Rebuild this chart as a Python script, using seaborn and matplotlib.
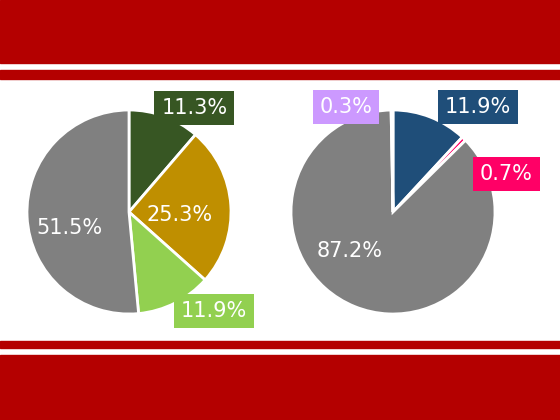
import seaborn as sns
import matplotlib.pyplot as plt
from matplotlib.patches import Rectangle

# left pie
left_labels = ["A", "B", "C", "D"]
left_values = [11.3, 25.3, 11.9, 51.5]
left_colors = ["#375623", "#BF8F00", "#92D050", "#808080"]
left_boxed = [True, False, True, False]
left_text_pos = [(0.64, 1.02), (0.50, -0.03), (0.83, -0.97), (-0.58, -0.16)]

# right pie
right_labels = ["A", "B", "C", "D"]
right_values = [11.9, 0.7, 87.2, 0.3]
right_colors = ["#1F4E79", "#FF0066", "#808080", "#CC99FF"]
right_boxed = [True, True, False, True]
right_text_pos = [(0.83, 1.03), (1.11, 0.37), (-0.43, -0.38), (-0.46, 1.03)]

sns.set_theme(style="white")
plt.rcParams["font.family"] = ["DejaVu Sans"]

fig = plt.figure(figsize=(5.6, 4.2), dpi=100)
fig.patch.set_facecolor("white")

red = "#B40000"
# decorative bands (figure coords, measured in px from top)
for top, bottom in [(0, 63), (70, 79), (341, 348), (355, 420)]:
    fig.add_artist(Rectangle((0, 1 - bottom / 420), 1, (bottom - top) / 420,
                             transform=fig.transFigure, color=red, zorder=0))

r_px = 102


def draw_pie(cx, cy, values, colors, boxed, text_pos):
    ax = fig.add_axes([(cx - r_px) / 560, 1 - (cy + r_px) / 420,
                       2 * r_px / 560, 2 * r_px / 420])
    ax.pie(values, colors=colors, startangle=90, counterclock=False,
           radius=1, wedgeprops={"edgecolor": "white", "linewidth": 2})
    ax.set_xlim(-1, 1)
    ax.set_ylim(-1, 1)
    ax.set_aspect("equal")
    ax.axis("off")
    for v, c, b, (x, y) in zip(values, colors, boxed, text_pos):
        kw = {}
        if b:
            kw["bbox"] = dict(boxstyle="square,pad=0.33", fc=c, ec="none")
        ax.text(x, y, f"{v:.1f}%", color="white", fontsize=15,
                ha="center", va="center", clip_on=False, zorder=5, **kw)


draw_pie(129, 212, left_values, left_colors, left_boxed, left_text_pos)
draw_pie(393, 212, right_values, right_colors, right_boxed, right_text_pos)

fig.savefig("out.png", dpi=100)
